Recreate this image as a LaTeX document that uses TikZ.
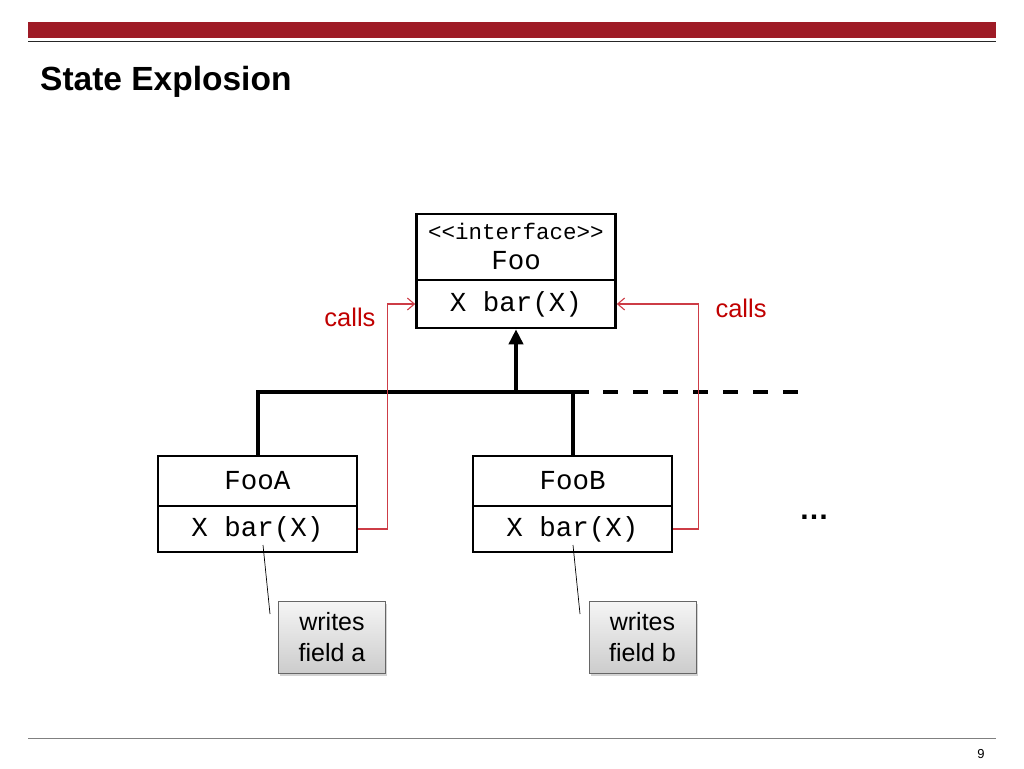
\documentclass[tikz,border=0pt]{standalone}
\usepackage{fontspec}
\setmainfont{Liberation Sans}
\setmonofont{Liberation Mono}
\usetikzlibrary{arrows.meta,shadows}
\definecolor{barred}{RGB}{158,27,38}
\definecolor{callred}{RGB}{192,0,0}
\definecolor{linered}{RGB}{205,60,70}
\begin{document}
\begin{tikzpicture}[x=1pt,y=-1pt,
  umlbox/.style={draw,line width=2.6pt,minimum width=199pt,inner sep=0pt},
  mono/.style={font=\ttfamily\fontsize{27.5}{32}\selectfont},
  monosmall/.style={font=\ttfamily\fontsize{22.5}{26}\selectfont},
  calltext/.style={text=callred,font=\fontsize{25.5}{30}\selectfont},
  callline/.style={draw=linered,line width=1.1pt,-{Straight Barb[length=7pt,width=12pt]}},
  inherit/.style={line width=4pt},
  notebox/.style={draw=gray!80!black,line width=0.6pt,top color=gray!8,bottom color=gray!40,
    minimum width=107pt,minimum height=72pt,align=center,font=\fontsize{25}{31}\selectfont,
    drop shadow={opacity=0.35,shadow xshift=1.5pt,shadow yshift=-2pt}},
  noteline/.style={line width=0.7pt}]
\useasboundingbox (0,0) rectangle (1024,768);
% header
\fill[barred] (28,22) rectangle (996,38);
\draw[black!85,line width=1.8pt] (28,41.5) -- (996,41.5);
\node[anchor=base west,font=\bfseries\fontsize{33.5}{38}\selectfont,inner sep=0pt] (title) at (40,90) {State Explosion};
% footer
\draw[gray,line width=1pt] (28,738) -- (996,738);
\node[anchor=base,font=\fontsize{13}{15}\selectfont,inner sep=0pt] (pagenum) at (981,758) {9};

% Foo
\node[umlbox,minimum height=66pt] (foohead) at (516,247) {};
\node[umlbox,minimum height=48pt,mono] (foom) at (516,304) {X bar(X)};
\node[monosmall] (fooint) at (516,231) {{<}{<}interface{>}{>}};
\node[mono] (fooname) at (516,261) {Foo};

% FooA
\node[umlbox,minimum height=50pt,mono] (fooA) at (257.5,481) {FooA};
\node[umlbox,minimum height=46pt,mono] (fooAm) at (257.5,529) {X bar(X)};
% FooB
\node[umlbox,minimum height=50pt,mono] (fooB) at (572.5,481) {FooB};
\node[umlbox,minimum height=46pt,mono] (fooBm) at (572.5,529) {X bar(X)};

% inheritance
\coordinate (jF) at (516,392);
\coordinate (jB) at (572.5,392);
\coordinate (jE) at (589,392);
\coordinate (dS) at (603,392);
\coordinate (dE) at (798,392);
\draw[inherit,-{Triangle[length=15pt,width=14pt]}] (jF) -- (foom.south);
\draw[inherit] (fooA.north) |- (jE);
\draw[inherit] (jB) -- (fooB.north);
\draw[inherit,dash pattern=on 15pt off 15pt] (dS) -- (dE);

% calls
\draw[callline] (fooAm.east) -- ++(29,0) |- (foom.west);
\draw[callline] (fooBm.east) -- ++(25,0) |- (foom.east);
\node[calltext] (callsL) at (350,317) {calls};
\node[calltext] (callsR) at (741,308) {calls};

% dots
\node[anchor=base,font=\bfseries\fontsize{30}{34}\selectfont,inner sep=0pt] (dots) at (814,519) {…};

% notes
\node[notebox] (noteA) at (332,637.5) {\raisebox{-2pt}{writes}\\\raisebox{-2pt}{field a}};
\node[notebox] (noteB) at (642.5,637.5) {\raisebox{-2pt}{writes}\\\raisebox{-2pt}{field b}};
\coordinate (nA1) at (263,545);
\coordinate (nA2) at (270,614);
\coordinate (nB1) at (573,545);
\coordinate (nB2) at (580,614);
\draw[noteline] (nA1) -- (nA2);
\draw[noteline] (nB1) -- (nB2);
\end{tikzpicture}
\end{document}
